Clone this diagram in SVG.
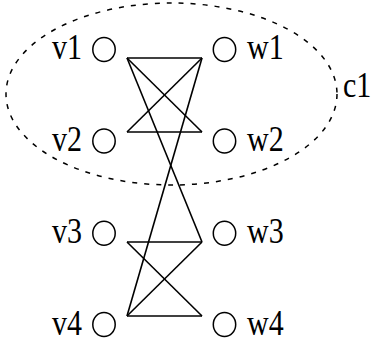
<svg xmlns="http://www.w3.org/2000/svg" width="378" height="345" viewBox="0 0 378 345">
<style>
.lbl{font-family:"Liberation Serif","Times New Roman",serif;font-size:30px;fill:#000}
.nd{fill:none;stroke:#000;stroke-width:1.5}
.ed{stroke:#000;stroke-width:1.6;fill:none}
.cl{fill:none;stroke:#000;stroke-width:1.5;stroke-dasharray:5 7}
</style>
<rect width="378" height="345" fill="#fff"/>
<g id="c1">
<ellipse class="cl" cx="171.5" cy="94" rx="165.5" ry="91"/>
<text class="lbl" transform="translate(343,97) scale(1,1.22)">c1</text>
</g>
<g id="v1"><ellipse class="nd" cx="104" cy="49.5" rx="11.2" ry="12"/><text class="lbl" transform="translate(52,58.5) scale(1,1.22)">v1</text></g>
<g id="w1"><ellipse class="nd" cx="224.5" cy="49.5" rx="11.2" ry="12"/><text class="lbl" transform="translate(247,58.5) scale(1,1.22)">w1</text></g>
<g id="v2"><ellipse class="nd" cx="104" cy="141" rx="11.2" ry="12"/><text class="lbl" transform="translate(52,150.5) scale(1,1.22)">v2</text></g>
<g id="w2"><ellipse class="nd" cx="224.5" cy="141" rx="11.2" ry="12"/><text class="lbl" transform="translate(247,150.5) scale(1,1.22)">w2</text></g>
<g id="v3"><ellipse class="nd" cx="104" cy="233.3" rx="11.2" ry="12"/><text class="lbl" transform="translate(52,243) scale(1,1.22)">v3</text></g>
<g id="w3"><ellipse class="nd" cx="224.5" cy="233.3" rx="11.2" ry="12"/><text class="lbl" transform="translate(247,243) scale(1,1.22)">w3</text></g>
<g id="v4"><ellipse class="nd" cx="104" cy="324.5" rx="11.2" ry="12"/><text class="lbl" transform="translate(52,334.5) scale(1,1.22)">v4</text></g>
<g id="w4"><ellipse class="nd" cx="224.5" cy="324.5" rx="11.2" ry="12"/><text class="lbl" transform="translate(247,334.5) scale(1,1.22)">w4</text></g>
<g id="edges">
<line class="ed" x1="127" y1="58" x2="202" y2="58"/>
<line class="ed" x1="127" y1="58" x2="202" y2="132"/>
<line class="ed" x1="202" y1="58" x2="127" y2="132"/>
<line class="ed" x1="127" y1="132" x2="202" y2="132"/>
<line class="ed" x1="127" y1="58" x2="202" y2="242"/>
<line class="ed" x1="202" y1="58" x2="127" y2="316"/>
<line class="ed" x1="127" y1="242" x2="202" y2="242"/>
<line class="ed" x1="127" y1="242" x2="202" y2="316"/>
<line class="ed" x1="202" y1="242" x2="127" y2="316"/>
<line class="ed" x1="127" y1="316" x2="202" y2="316"/>
</g>
</svg>
